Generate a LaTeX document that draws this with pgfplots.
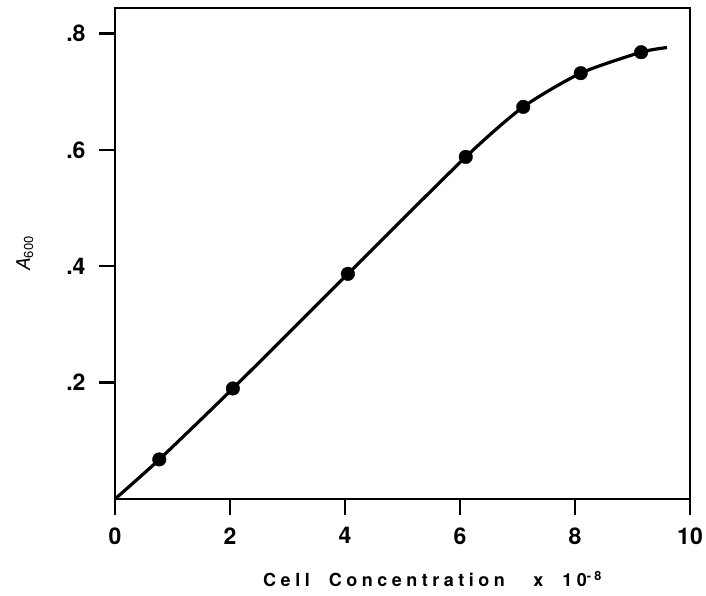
\documentclass[border=0pt]{standalone}
\usepackage{pgfplots}
\pgfplotsset{compat=1.18}
\usepackage{fontspec}
\setmainfont{TeX Gyre Heros}
\newfontfamily\spaced[LetterSpace=25]{TeX Gyre Heros}
\begin{document}
\begin{tikzpicture}
\begin{axis}[
  name=ax,
  scale only axis,
  width=575pt, height=491pt,
  xmin=0, xmax=10, ymin=0, ymax=0.844,
  axis line style={line width=2.6pt},
  xtick={0,2,4,6,8,10},
  xticklabels={0,2,4,6,8,10},
  ytick={0.2,0.4,0.6,0.8},
  yticklabels={.2,.4,.6,.8},
  tick align=outside,
  xtick pos=bottom, ytick pos=left,
  major tick length=16pt,
  tick style={line width=2.4pt, black},
  every tick label/.append style={font=\fontsize{23}{27}\selectfont\bfseries},
  /pgf/number format/assume math mode=true,
  xticklabel style={yshift=-9pt},
  yticklabel style={xshift=-10pt},
  xlabel={\spaced\fontsize{18}{21}\selectfont\bfseries Cell\ \ Concentration\ \ \ x\ \ 10\textsuperscript{-8}},
  xlabel style={yshift=-20pt, xshift=30pt},
  ylabel={\fontsize{19}{22}\selectfont \textit{A}\raisebox{-0.3ex}{\fontsize{13}{15}\selectfont 600}},
  ylabel style={yshift=26pt},
  clip=false,
]
\addplot[line width=3.2pt, smooth, tension=0.4] coordinates {
  (0,0) (0.77,0.068) (2.05,0.19) (4.05,0.387) (6.1,0.588) (7.1,0.674) (8.1,0.732) (9.15,0.768) (9.6,0.776)
};
\addplot[only marks, mark=*, mark size=6.8pt, black] coordinates {
  (0.77,0.068) (2.05,0.19) (4.05,0.387) (6.1,0.588) (7.1,0.674) (8.1,0.732) (9.15,0.768)
};
\end{axis}
\pgfresetboundingbox
\path ([xshift=-115pt,yshift=-96pt]ax.south west) rectangle ([xshift=16pt,yshift=8pt]ax.north east);
\end{tikzpicture}
\end{document}
